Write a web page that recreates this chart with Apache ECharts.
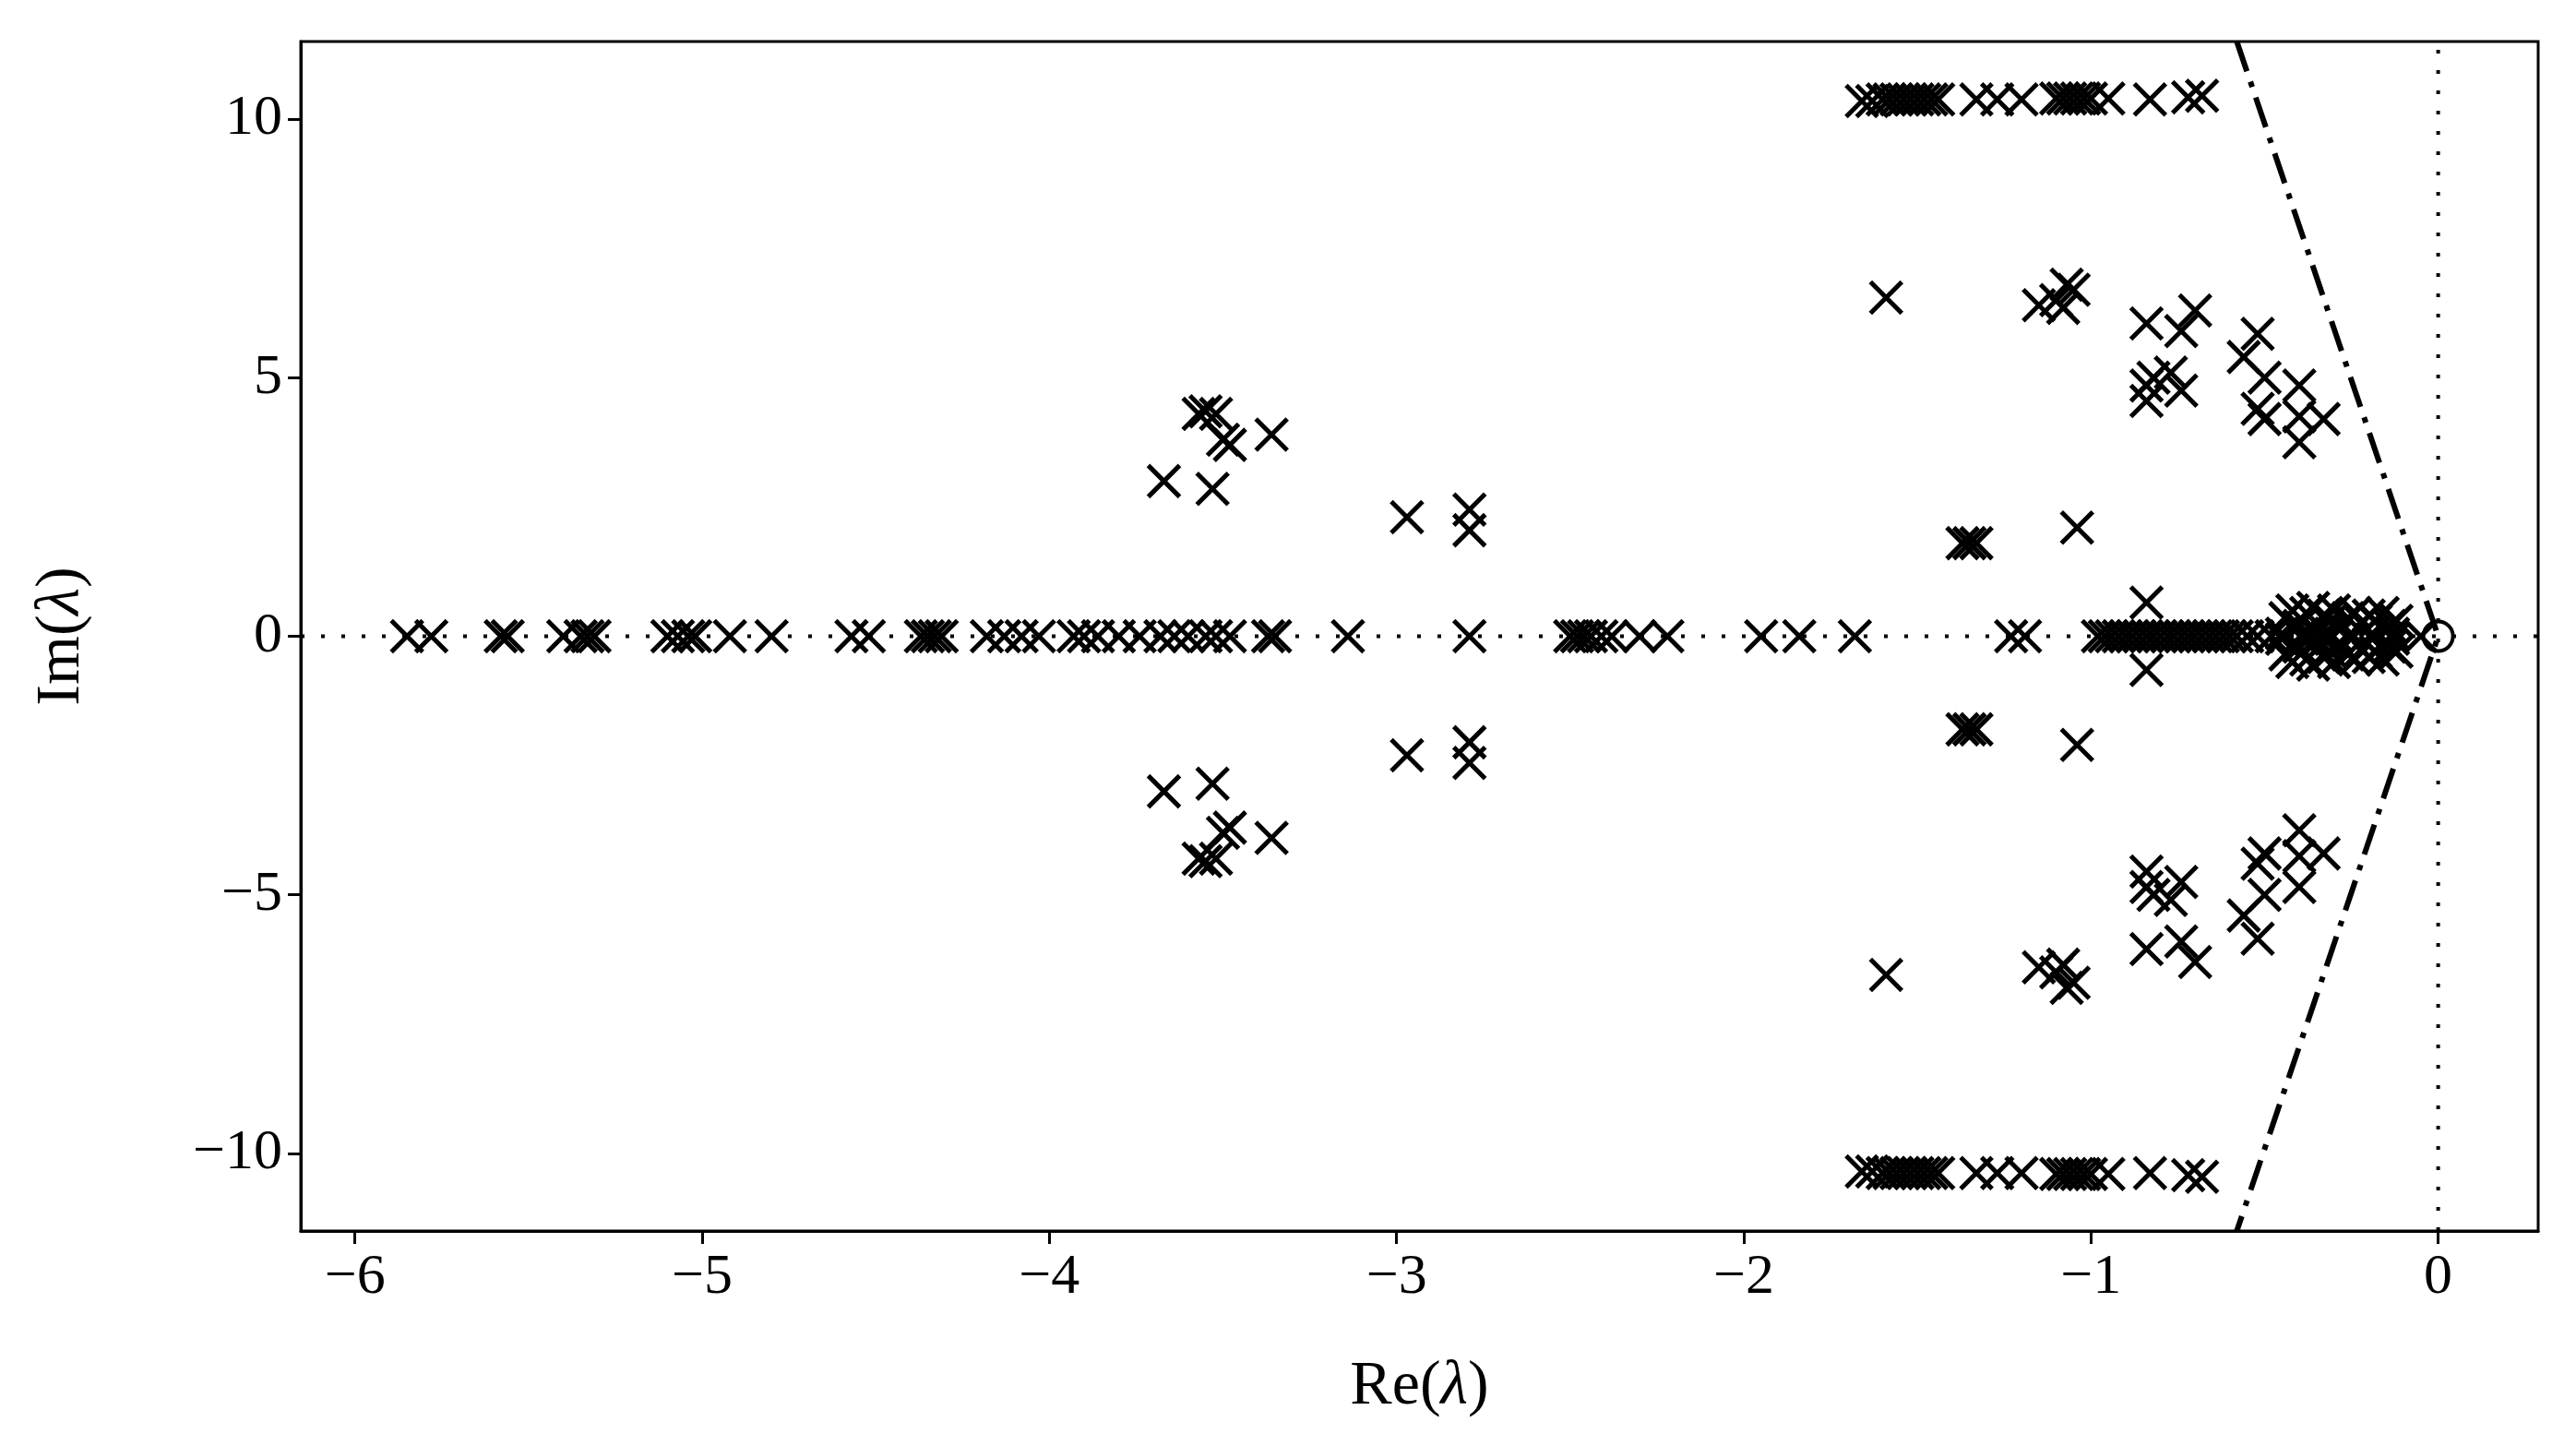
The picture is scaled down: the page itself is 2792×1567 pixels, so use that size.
<!DOCTYPE html><html><head><meta charset="utf-8"><script src="https://cdn.jsdelivr.net/npm/echarts@6/dist/echarts.min.js"></script>
<style>html,body{margin:0;background:#fff}#c{width:2792px;height:1567px}</style></head><body><div id="c"></div><script>
const xTicks=[-6,-5,-4,-3,-2,-1,0];
const yTicks=[-10,-5,0,5,10];
const realEig=[-5.85,-5.78,-5.58,-5.56,-5.4,-5.35,-5.33,-5.31,-5.1,-5.07,-5.04,-5.02,-4.92,-4.8,-4.57,-4.52,-4.37,-4.35,-4.33,-4.31,-4.18,-4.13,-4.08,-4.03,-3.93,-3.9,-3.86,-3.8,-3.74,-3.68,-3.64,-3.6,-3.55,-3.52,-3.48,-3.37,-3.35,-3.14,-2.79,-2.5,-2.48,-2.46,-2.44,-2.41,-2.38,-2.3,-2.22,-1.95,-1.84,-1.68,-1.23,-1.19,
-0.98,-0.96,-0.94,-0.92,-0.9,-0.88,-0.86,-0.84,-0.82,-0.8,-0.78,-0.76,-0.74,-0.72,-0.7,-0.68,-0.66,-0.64,-0.62,-0.6,-0.58,-0.55,-0.52,-0.48,-0.05];
const complexEig=[[-3.57,4.3],[-3.55,4.35],[-3.52,4.3],[-3.5,3.8],[-3.48,3.7],[-3.36,3.9],[-3.67,3.0],[-3.53,2.85],[-2.97,2.3],[-2.79,2.45],[-2.79,2.05],[-1.59,6.55],[-1.37,1.8],[-1.35,1.8],[-1.33,1.8],[-1.04,2.1],[-1.15,6.4],[-1.1,6.5],[-1.07,6.8],[-1.05,6.7],[-1.08,6.35],[-0.84,6.05],[-0.74,5.9],[-0.7,6.3],[-0.84,4.55],[-0.84,4.85],[-0.82,5.0],[-0.77,5.1],[-0.74,4.75],[-0.56,5.4],[-0.52,5.85],[-0.52,4.4],[-0.5,4.2],[-0.5,5.0],[-0.4,4.85],[-0.4,4.25],[-0.33,4.2],[-0.4,3.75],[-0.84,0.65],
[-1.66,10.35],[-1.63,10.35],[-1.6,10.38],[-1.58,10.38],[-1.56,10.38],[-1.54,10.38],[-1.52,10.38],[-1.5,10.38],[-1.48,10.38],[-1.46,10.38],[-1.44,10.38],[-1.33,10.38],[-1.27,10.38],[-1.2,10.38],[-1.1,10.4],[-1.08,10.4],[-1.06,10.4],[-1.04,10.4],[-1.02,10.4],[-1.0,10.4],[-0.95,10.4],[-0.83,10.38],[-0.72,10.42],[-0.68,10.45],
[-0.44,0.35],[-0.42,0.5],[-0.4,0.2],[-0.38,0.45],[-0.36,0.55],[-0.35,0.1],[-0.33,0.4],[-0.31,0.3],[-0.3,0.5],[-0.28,0.15],[-0.26,0.35],[-0.24,0.45],[-0.22,0.25],[-0.2,0.4],[-0.18,0.3],[-0.16,0.45],[-0.14,0.2],[-0.12,0.3],[-0.45,0.05],[-0.39,0.05],[-0.32,0.05],[-0.25,0.05],[-0.19,0.05],[-0.13,0.05]];
const pts=realEig.map(x=>[x,0]);
complexEig.forEach(p=>{pts.push([p[0],p[1]]);pts.push([p[0],-p[1]]);});
const ch=echarts.init(document.getElementById('c'));
const F='Liberation Serif';
const rich={a:{fontFamily:F,fontSize:68,color:'#000'},b:{fontFamily:F,fontSize:68,fontStyle:'italic',color:'#000'}};
ch.setOption({animation:false,
grid:{left:326,right:41,top:45,bottom:233,show:true,borderColor:'#000',borderWidth:3},
xAxis:{type:'value',min:-6.156,max:0.288,splitLine:{show:false},
 axisLine:{onZero:false,lineStyle:{color:'#000',width:3}},
 axisTick:{customValues:xTicks,length:14,lineStyle:{width:3,color:'#000'}},
 axisLabel:{customValues:xTicks,formatter:v=>String(v).replace('-','\u2212'),fontFamily:F,fontSize:62,color:'#000',margin:20},
 name:'{a|Re(}{b|λ}{a|)}',nameLocation:'middle',nameGap:135,nameTextStyle:{rich}},
yAxis:{type:'value',min:-11.5,max:11.5,splitLine:{show:false},
 axisLine:{onZero:false,lineStyle:{color:'#000',width:3}},
 axisTick:{customValues:yTicks,length:14,lineStyle:{width:3,color:'#000'}},
 axisLabel:{customValues:yTicks,formatter:v=>String(v).replace('-','\u2212'),fontFamily:F,fontSize:62,color:'#000',margin:20},
 name:'{a|Im(}{b|λ}{a|)}',nameLocation:'middle',nameGap:225,nameRotate:90,nameTextStyle:{rich}},
series:[
{type:'line',data:[[-6.156,0],[0.288,0]],symbol:'none',lineStyle:{color:'#000',width:4,type:[4,18]},z:1},
{type:'line',data:[[0,-11.5],[0,11.5]],symbol:'none',lineStyle:{color:'#000',width:4,type:[4,18]},z:1},
{type:'line',data:[[-0.58,11.5],[0,0],[-0.58,-11.5]],symbol:'none',lineStyle:{color:'#000',width:6,type:[34,12,6,12]},z:2},
{type:'scatter',data:pts,symbol:'path://M0,0L10,10M10,0L0,10',symbolSize:34,itemStyle:{color:'none',borderColor:'#000',borderWidth:5,opacity:1},z:3},
{type:'scatter',data:[[0,0]],symbol:'circle',symbolSize:32,itemStyle:{color:'rgba(0,0,0,0)',borderColor:'#000',borderWidth:4,opacity:1},z:4}
]});
</script></body></html>
